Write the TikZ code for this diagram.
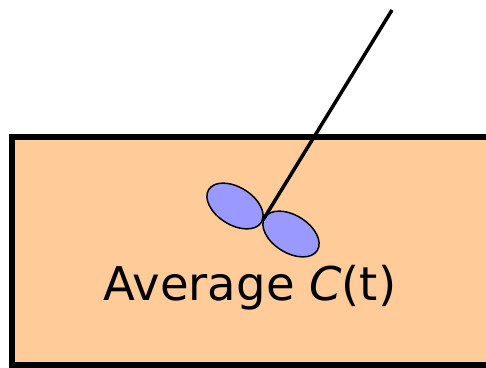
\documentclass[tikz,border=0pt]{standalone}
\usepackage{fontspec}
\setmainfont{DejaVu Sans}
\definecolor{boxfill}{HTML}{FFCC99}
\definecolor{blobfill}{HTML}{9999FF}
\begin{document}
\begin{tikzpicture}[x=1pt,y=-1pt,
  box/.style={draw=black,line width=6pt,fill=boxfill},
  blob/.style={draw=black,line width=1.5pt,fill=blobfill},
  stick/.style={draw=black,line width=3.5pt}]
\useasboundingbox (0,0) rectangle (486,367);
\clip (0,0) rectangle (486,367);
\draw[box] (12,137) rectangle (500,365);
\draw[blob] (235,206) ellipse[x radius=31, y radius=18.8, rotate=-32];
\draw[blob] (291,234) ellipse[x radius=31, y radius=18.8, rotate=-32];
\coordinate (top) at (392,10);
\coordinate (joint) at (263,220);
\draw[stick] (top) -- (joint);
\node[anchor=base,inner sep=0pt,font=\fontsize{46.5}{56}\selectfont] (label) at (250,300) {Average \textit{C}(t)};
\end{tikzpicture}
\end{document}
